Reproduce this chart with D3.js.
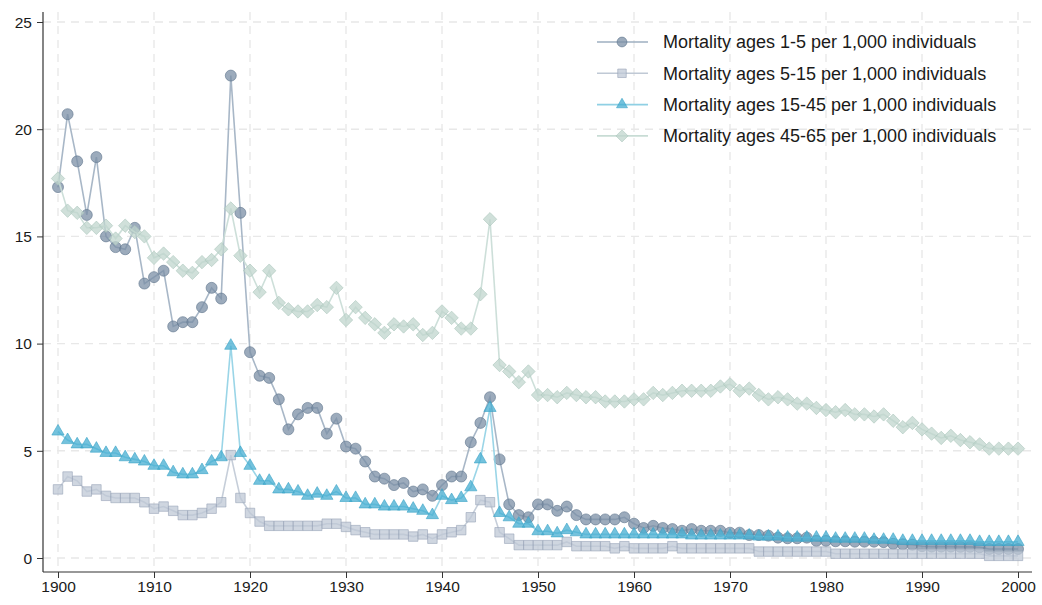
<!DOCTYPE html>
<html lang="en">
<head>
  <meta charset="UTF-8" />
  <title>Mortality by age group, 1900-2000</title>
  <script src="https://d3js.org/d3.v7.min.js"></script>
  <style>
    body { margin: 0; background: #fff; }
    svg { display: block; font-family: "Liberation Sans", Arial, sans-serif; }
    .grid line { stroke: #e8e8e8; stroke-width: 1.4; stroke-dasharray: 8,6; }
    .tick text { font-size: 15.5px; fill: #1a1a1a; }
    .tick line { stroke: #333; }
    .legend text { font-size: 18px; fill: #1a1a1a; }
  </style>
</head>
<body>
<svg id="chart" width="1042" height="605"></svg>
<script>
const years = d3.range(1900, 2001);

const ages1to5 = [
  17.3, 20.7, 18.5, 16.0, 18.7, 15.0, 14.5, 14.4, 15.4, 12.8,
  13.1, 13.4, 10.8, 11.0, 11.0, 11.7, 12.6, 12.1, 22.5, 16.1,
  9.6, 8.5, 8.4, 7.4, 6.0, 6.7, 7.0, 7.0, 5.8, 6.5,
  5.2, 5.1, 4.5, 3.8, 3.7, 3.4, 3.5, 3.1, 3.2, 2.9,
  3.4, 3.8, 3.8, 5.4, 6.3, 7.5, 4.6, 2.5, 2.0, 1.9,
  2.5, 2.5, 2.2, 2.4, 2.0, 1.8, 1.8, 1.8, 1.8, 1.9,
  1.6, 1.4, 1.5, 1.4, 1.35, 1.27, 1.35, 1.27, 1.27, 1.27,
  1.18, 1.18, 1.07, 1.07, 1.04, 0.95, 0.92, 0.92, 0.95, 0.8,
  0.8, 0.78, 0.78, 0.76, 0.76, 0.76, 0.74, 0.66, 0.64, 0.62,
  0.55, 0.53, 0.53, 0.53, 0.52, 0.52, 0.5, 0.42, 0.42, 0.42,
  0.42
];
const ages5to15 = [
  3.2, 3.8, 3.6, 3.1, 3.2, 2.9, 2.8, 2.8, 2.8, 2.6,
  2.3, 2.4, 2.2, 2.0, 2.0, 2.1, 2.3, 2.6, 4.8, 2.8,
  2.1, 1.7, 1.5, 1.5, 1.5, 1.5, 1.5, 1.5, 1.6, 1.6,
  1.45, 1.3, 1.2, 1.1, 1.1, 1.1, 1.1, 1.0, 1.1, 0.9,
  1.1, 1.2, 1.3, 1.9, 2.7, 2.6, 1.2, 0.9, 0.6, 0.6,
  0.6, 0.6, 0.6, 0.75, 0.55, 0.55, 0.55, 0.55, 0.45, 0.55,
  0.45, 0.45, 0.45, 0.45, 0.55, 0.45, 0.45, 0.45, 0.45, 0.45,
  0.45, 0.45, 0.45, 0.3, 0.3, 0.3, 0.3, 0.3, 0.3, 0.3,
  0.3, 0.2, 0.2, 0.2, 0.2, 0.2, 0.2, 0.2, 0.2, 0.2,
  0.2, 0.2, 0.2, 0.2, 0.2, 0.2, 0.2, 0.1, 0.1, 0.1,
  0.1
];
const ages15to45 = [
  5.9, 5.5, 5.3, 5.3, 5.1, 4.9, 4.9, 4.7, 4.6, 4.5,
  4.3, 4.3, 4.0, 3.9, 3.9, 4.1, 4.5, 4.7, 9.9, 4.9,
  4.3, 3.6, 3.6, 3.2, 3.2, 3.1, 2.9, 3.0, 2.9, 3.1,
  2.8, 2.8, 2.5, 2.5, 2.4, 2.4, 2.4, 2.3, 2.2, 2.0,
  2.9, 2.7, 2.8, 3.3, 4.6, 7.0, 2.1, 1.9, 1.6, 1.6,
  1.25, 1.25, 1.15, 1.3, 1.2, 1.1, 1.1, 1.1, 1.1, 1.1,
  1.1, 1.1, 1.1, 1.1, 1.1, 1.1, 1.05, 1.05, 1.05, 1.05,
  1.05, 1.05, 1.05, 1.0, 1.0, 1.0, 0.95, 0.95, 0.95, 0.95,
  0.95, 0.9, 0.9, 0.9, 0.9, 0.85, 0.85, 0.85, 0.8, 0.8,
  0.8, 0.8, 0.8, 0.8, 0.8, 0.8, 0.75, 0.75, 0.75, 0.75,
  0.75
];
const ages45to65 = [
  17.7, 16.2, 16.1, 15.4, 15.4, 15.5, 14.9, 15.5, 15.2, 15.0,
  14.0, 14.2, 13.8, 13.4, 13.3, 13.8, 13.9, 14.4, 16.3, 14.1,
  13.4, 12.4, 13.4, 11.9, 11.6, 11.5, 11.5, 11.8, 11.7, 12.6,
  11.1, 11.7, 11.2, 10.9, 10.5, 10.9, 10.8, 10.9, 10.4, 10.5,
  11.5, 11.2, 10.7, 10.7, 12.3, 15.8, 9.0, 8.7, 8.2, 8.7,
  7.6, 7.6, 7.5, 7.7, 7.6, 7.5, 7.5, 7.3, 7.3, 7.3,
  7.4, 7.4, 7.7, 7.6, 7.7, 7.8, 7.8, 7.8, 7.8, 8.0,
  8.1, 7.8, 7.9, 7.6, 7.4, 7.5, 7.4, 7.2, 7.2, 7.0,
  6.9, 6.8, 6.9, 6.7, 6.7, 6.6, 6.7, 6.4, 6.1, 6.3,
  6.0, 5.8, 5.6, 5.7, 5.5, 5.4, 5.3, 5.1, 5.1, 5.1,
  5.1
];

// square turned 45 degrees, as the marker for the last series
const squareDiamond = {
  draw(context, size) {
    const r = Math.sqrt(size / 2);
    context.moveTo(0, -r);
    context.lineTo(r, 0);
    context.lineTo(0, r);
    context.lineTo(-r, 0);
    context.closePath();
  }
};

const series = [
  { label: "Mortality ages 1-5 per 1,000 individuals", values: ages1to5,
    symbol: d3.symbolCircle, size: 95, line: "#9eafc1", fill: "#7b8fa6", stroke: "#5f748c" },
  { label: "Mortality ages 5-15 per 1,000 individuals", values: ages5to15,
    symbol: d3.symbolSquare, size: 90, line: "#c0c9d5", fill: "#bfc8d6", stroke: "#98a4b8" },
  { label: "Mortality ages 15-45 per 1,000 individuals", values: ages15to45,
    symbol: d3.symbolTriangle, size: 65, line: "#8fd0e4", fill: "#45aed1", stroke: "#3aa3c7" },
  { label: "Mortality ages 45-65 per 1,000 individuals", values: ages45to65,
    symbol: squareDiamond, size: 90, line: "#c8dcd5", fill: "#c0d6ce", stroke: "#abc6bc" }
];

const yTicks = [0, 5, 10, 15, 20, 25];
const xTicks = d3.range(1900, 2001, 10);

const svg = d3.select("#chart");
const x = d3.scaleLinear().domain([1900, 2000]).range([58, 1018]);
const y = d3.scaleLinear().domain([0, 25]).range([558, 22]);

const axisX = 43, axisY = 572, topY = 12, rightX = 1032;

// grid
const grid = svg.append("g").attr("class", "grid");
grid.selectAll("line.h").data(yTicks).join("line")
  .attr("class", "h")
  .attr("x1", axisX).attr("x2", rightX)
  .attr("y1", d => y(d)).attr("y2", d => y(d));
grid.selectAll("line.v").data(xTicks).join("line")
  .attr("class", "v")
  .attr("x1", d => x(d)).attr("x2", d => x(d))
  .attr("y1", topY).attr("y2", axisY);

// axes
const gy = svg.append("g")
  .attr("transform", `translate(${axisX},0)`)
  .call(d3.axisLeft(y).tickValues(yTicks).tickSize(6).tickPadding(5));
gy.select(".domain").remove();
gy.selectAll(".tick text").attr("dy", "0.34em");

const gx = svg.append("g")
  .attr("transform", `translate(0,${axisY})`)
  .call(d3.axisBottom(x).tickValues(xTicks).tickFormat(d3.format("d")).tickSize(6).tickPadding(3));
gx.select(".domain").remove();

svg.append("line").attr("x1", axisX).attr("x2", axisX).attr("y1", topY).attr("y2", axisY)
  .attr("stroke", "#333").attr("stroke-width", 1.2);
svg.append("line").attr("x1", axisX).attr("x2", rightX).attr("y1", axisY).attr("y2", axisY)
  .attr("stroke", "#333").attr("stroke-width", 1.2);

// series
const line = d3.line().x((d, i) => x(years[i])).y(d => y(d));

series.forEach(s => {
  const g = svg.append("g");
  g.append("path")
    .attr("d", line(s.values))
    .attr("fill", "none")
    .attr("stroke", s.line)
    .attr("stroke-width", 1.6)
    .attr("stroke-opacity", 0.9);
  g.selectAll("path.m").data(s.values).join("path")
    .attr("class", "m")
    .attr("transform", (d, i) => `translate(${x(years[i])},${y(d)})`)
    .attr("d", d3.symbol().type(s.symbol).size(s.size))
    .attr("fill", s.fill)
    .attr("fill-opacity", 0.75)
    .attr("stroke", s.stroke)
    .attr("stroke-opacity", 0.6)
    .attr("stroke-width", 1);
});

// legend
const legend = svg.append("g").attr("class", "legend");
series.forEach((s, i) => {
  const ly = 42 + i * 31.3;
  legend.append("line").attr("x1", 597).attr("x2", 648).attr("y1", ly).attr("y2", ly)
    .attr("stroke", s.line).attr("stroke-width", 1.6);
  legend.append("path")
    .attr("transform", `translate(622,${ly})`)
    .attr("d", d3.symbol().type(s.symbol).size(s.size * 0.8))
    .attr("fill", s.fill).attr("fill-opacity", 0.75)
    .attr("stroke", s.stroke).attr("stroke-opacity", 0.6);
  legend.append("text").attr("x", 663).attr("y", ly).attr("dy", "0.35em").text(s.label);
});
</script>
</body>
</html>
